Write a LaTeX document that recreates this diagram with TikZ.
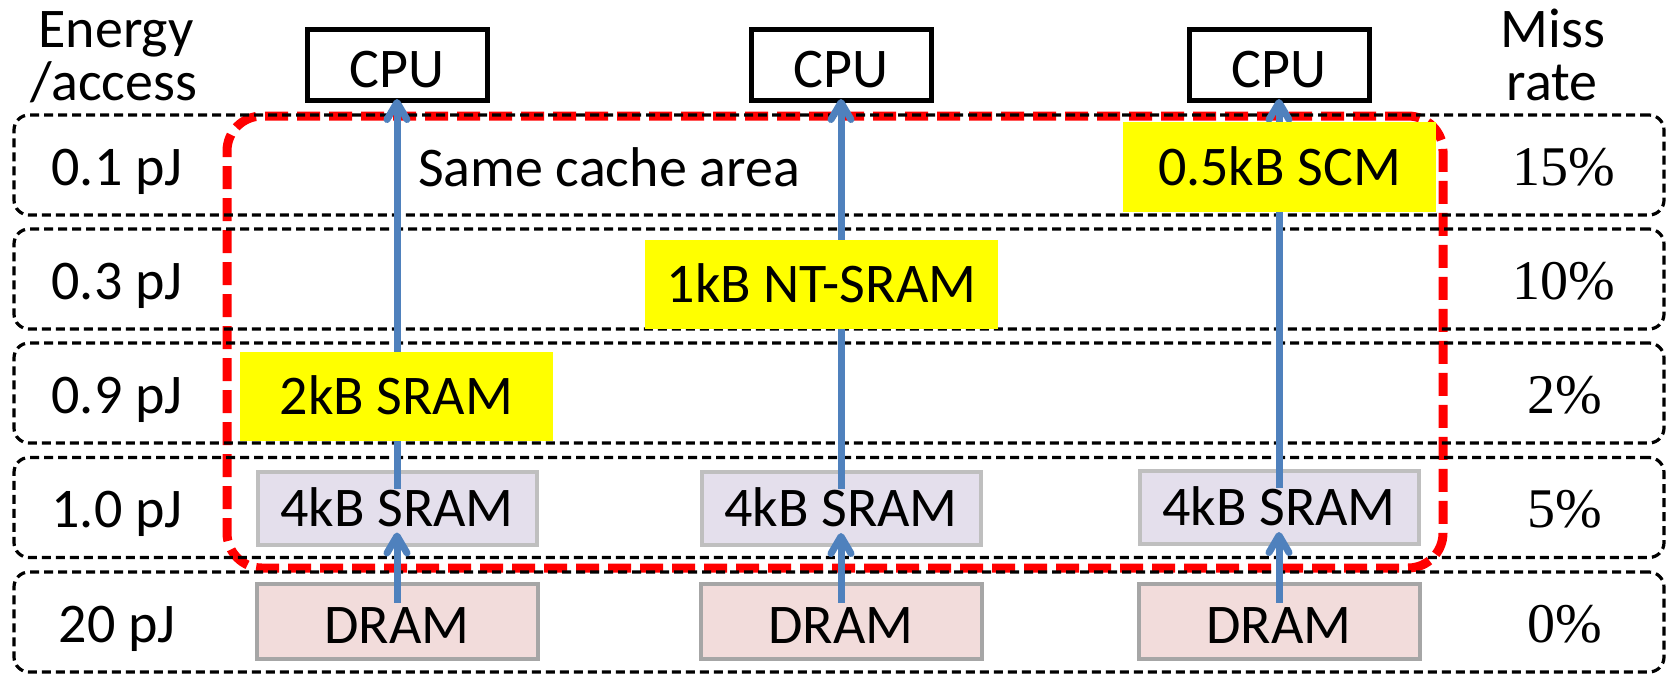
\documentclass[tikz,border=0pt]{standalone}
\usepackage{fontspec}
\newfontfamily\calib{Carlito}
\newfontfamily\pctserif{Liberation Serif}
\usetikzlibrary{arrows.meta}
\definecolor{arrowblue}{HTML}{4F81BD}
\definecolor{sramfill}{HTML}{E4DFEC}
\definecolor{sramdraw}{HTML}{BFBFBF}
\definecolor{dramfill}{HTML}{F2DCDB}
\definecolor{dramdraw}{HTML}{A6A6A6}
\definecolor{hiyellow}{HTML}{FFFF00}
\newcommand\txtfont{\calib\fontsize{56}{60}\selectfont}
\newcommand\pctfont{\pctserif\fontsize{56}{60}\selectfont}
\begin{document}
\begin{tikzpicture}[x=1pt,y=-1pt,
  every node/.style={inner sep=0pt, outer sep=0pt},
  txt/.style={font=\txtfont, text height=36pt, text depth=0pt},
  pct/.style={font=\pctfont, text height=38pt, text depth=0pt},
  rowbox/.style={draw=black, line width=3.2pt, dash pattern=on 9pt off 5pt,
    rounded corners=15pt, minimum width=1650pt, minimum height=100pt},
  areabox/.style={draw=red, line width=9pt, dash pattern=on 23pt off 9pt,
    rounded corners=35pt, minimum width=1216pt, minimum height=452pt},
  cpubox/.style={draw=black, line width=5pt, fill=white, font=\txtfont,
    text height=46pt, text depth=0pt, minimum width=180pt, minimum height=71pt},
  srambox/.style={draw=sramdraw, fill=sramfill, line width=4pt, font=\txtfont,
    text height=36pt, text depth=0pt, minimum width=279pt, minimum height=73pt},
  drambox/.style={draw=dramdraw, fill=dramfill, line width=4pt, font=\txtfont,
    text height=44pt, text depth=0pt, minimum width=281pt, minimum height=75pt},
  ybox/.style={fill=hiyellow, font=\txtfont, text height=36pt, text depth=0pt,
    minimum height=89pt},
  arr/.style={draw=arrowblue, line width=7pt,
    -{Straight Barb[length=17pt,width=20pt,round]}}
]
\useasboundingbox (0,0) rectangle (1666,673);

% same-area red box
\node[areabox] (area) at (835,342) {};

% rows
\node[rowbox] (row1) at (839,165) {};
\node[rowbox] (row2) at (839,279) {};
\node[rowbox] (row3) at (839,393) {};
\node[rowbox] (row4) at (839,507.5) {};
\node[rowbox] (row5) at (839,622) {};

% CPU boxes
\node[cpubox] (cpu1) at (397,64.5) {CPU};
\node[cpubox] (cpu2) at (841,64.5) {CPU};
\node[cpubox] (cpu3) at (1279,64.5) {CPU};

% 4kB SRAM boxes
\node[srambox] (sram1) at (397,508) {4kB SRAM};
\node[srambox] (sram2) at (841,508.5) {4kB SRAM};
\node[srambox] (sram3) at (1279,507.5) {4kB SRAM};

% DRAM boxes
\node[drambox] (dram1) at (397,621) {DRAM};
\node[drambox] (dram2) at (841,621) {DRAM};
\node[drambox] (dram3) at (1279,621) {DRAM};

% arrows
\foreach \i in {1,2,3}{
  \draw[arr, shorten <=-17pt, shorten >=-1pt] (sram\i.north) -- (cpu\i.south);
  \draw[arr, shorten <=-19pt, shorten >=-12pt] (dram\i.north) -- (sram\i.south);
}

% yellow cache boxes
\node[ybox, minimum width=313pt] (l2k) at (396.5,396.5) {2kB SRAM};
\node[ybox, minimum width=353pt] (l1k) at (821.5,284.5) {1kB NT-SRAM};
\node[ybox, minimum width=313pt, minimum height=90pt] (lscm) at (1279.5,167) {0.5kB SCM};

% same cache area text
\node[txt] (same) at (609,168.5) {Same cache area};

% left header and labels
\node[font=\txtfont, anchor=base] (eh1) at (116,47) {Energy};
\node[font=\txtfont, anchor=base] (eh2) at (114,100) {/access};
\node[txt] (e1) at (117,167) {0.1 pJ};
\node[txt] (e2) at (117,281) {0.3 pJ};
\node[txt] (e3) at (117,395) {0.9 pJ};
\node[txt] (e4) at (117,509.5) {1.0 pJ};
\node[txt] (e5) at (117,624) {20 pJ};

% right header and miss rates
\node[font=\txtfont, anchor=base] (mh1) at (1553,47) {Miss};
\node[font=\txtfont, anchor=base] (mh2) at (1552,100) {rate};
\node[pct] (m1) at (1564,166) {15\%};
\node[pct] (m2) at (1564,280) {10\%};
\node[pct] (m3) at (1565,394) {2\%};
\node[pct] (m4) at (1565,508.5) {5\%};
\node[pct] (m5) at (1565,623) {0\%};
\end{tikzpicture}
\end{document}
